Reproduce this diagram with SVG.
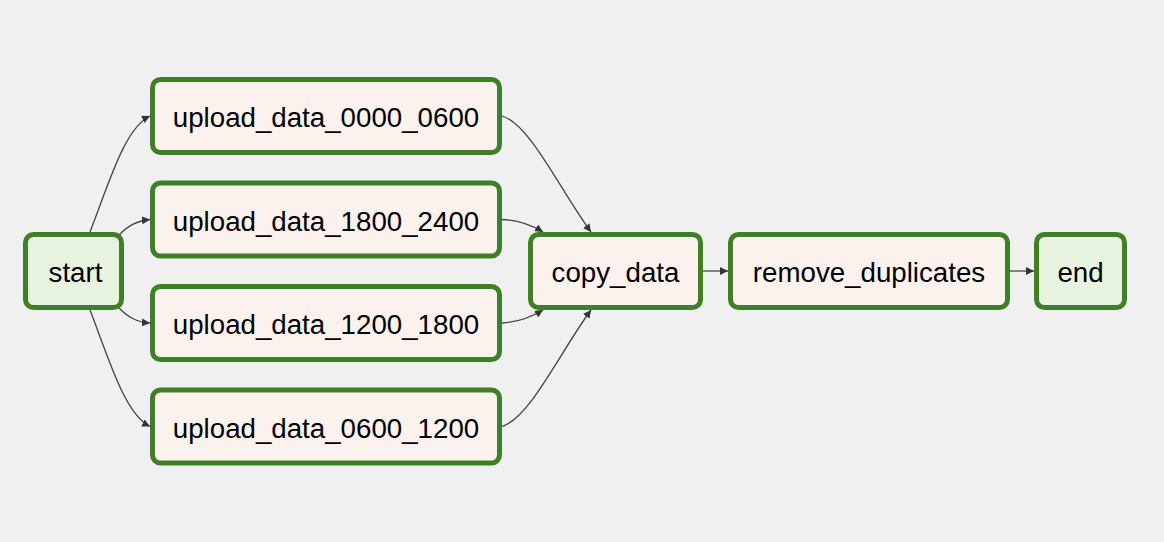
<svg xmlns="http://www.w3.org/2000/svg" width="1164" height="542" viewBox="0 0 1164 542">
<style>
.bg{fill:#f0f0f0}
.node rect{stroke:#3f7f27;stroke-width:5}
.task rect{fill:#fcf2ed}
.term rect{fill:#e7f2df}
.node text{font-family:"Liberation Sans",Arial,Helvetica,sans-serif;font-size:27.7px;fill:#000;text-anchor:middle}
.edge{fill:none;stroke:#444;stroke-width:1.3;marker-end:url(#arr)}
</style>
<defs>
<marker id="arr" markerWidth="10" markerHeight="8" refX="8" refY="4" orient="auto" markerUnits="userSpaceOnUse">
<path d="M0,0 L8,4 L0,8 Z" fill="#333"/>
</marker>
</defs>
<rect class="bg" x="0" y="0" width="1164" height="542"/>
<g id="connectors">
<path class="edge" d="M90,232 C110,180 125,128 150,116"/>
<path class="edge" d="M119,235 C128,226 136,221 150,219.5"/>
<path class="edge" d="M119,308 C128,317 136,322 150,323"/>
<path class="edge" d="M90,310 C110,362 125,414 150,426.5"/>
<path class="edge" d="M502,116 C530,124 560,190 591,232"/>
<path class="edge" d="M502,219.5 C518,220 530,224 543,232"/>
<path class="edge" d="M502,323 C518,322 530,318 543,310"/>
<path class="edge" d="M502,426.5 C530,418 560,352 591,310"/>
<path class="edge" d="M703,271 L728,271"/>
<path class="edge" d="M1010,271 L1034,271"/>
</g>
<g id="start" class="node term">
<rect x="25.5" y="234.5" width="96" height="73" rx="8"/>
<text x="75.5" y="282">start</text>
</g>
<g id="upload_data_0000_0600" class="node task">
<rect x="152.5" y="79.5" width="347" height="73" rx="8"/>
<text x="326" y="127">upload_data_0000_0600</text>
</g>
<g id="upload_data_1800_2400" class="node task">
<rect x="152.5" y="183" width="347" height="73" rx="8"/>
<text x="326" y="230.5">upload_data_1800_2400</text>
</g>
<g id="upload_data_1200_1800" class="node task">
<rect x="152.5" y="286.5" width="347" height="73" rx="8"/>
<text x="326" y="334">upload_data_1200_1800</text>
</g>
<g id="upload_data_0600_1200" class="node task">
<rect x="152.5" y="390" width="347" height="73" rx="8"/>
<text x="326" y="437.5">upload_data_0600_1200</text>
</g>
<g id="copy_data" class="node task">
<rect x="530.5" y="234.5" width="170" height="73" rx="8"/>
<text x="615.5" y="282">copy_data</text>
</g>
<g id="remove_duplicates" class="node task">
<rect x="730.5" y="234.5" width="277" height="73" rx="8"/>
<text x="869" y="282">remove_duplicates</text>
</g>
<g id="end" class="node term">
<rect x="1036.5" y="234.5" width="88" height="73" rx="8"/>
<text x="1080.5" y="282">end</text>
</g>
</svg>
